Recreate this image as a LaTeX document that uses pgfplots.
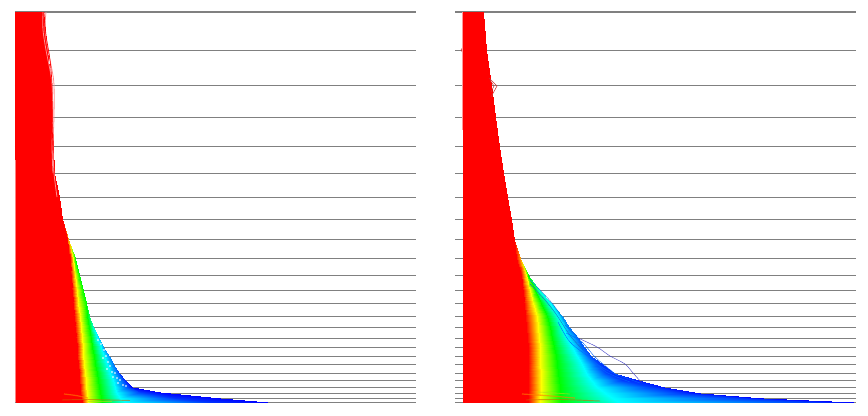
\documentclass[border=0pt]{standalone}
\usepackage{pgfplots}
\pgfplotsset{compat=1.18}
\pgfplotsset{panel/.style={
  scale only axis, width=300.75pt, height=292.5pt, anchor=south west,
  ymin=12, ymax=402, y dir=reverse,
  axis line style={draw=none}, tick style={draw=none},
  xtick=\empty, yticklabels={},
  ytick={12,50,85,117,146,173,197,219,239,258,275,290,303,316,327,338,347,356,364,373,380,387,393,398,402},
  ymajorgrids, grid style={draw=black!50,line width=0.75pt},
  extra y ticks={12}, extra y tick labels={}, extra y tick style={grid style={draw=black!50,line width=1.5pt}},
  colormap={rb}{rgb255(0cm)=(0,0,255);rgb255(1cm)=(0,255,255);rgb255(2cm)=(0,255,0);rgb255(3cm)=(255,255,0);rgb255(4cm)=(255,0,0)},
  point meta min=0, point meta max=1,
}}
\begin{document}
\begin{tikzpicture}
\path[use as bounding box] (0,0) rectangle (651pt,311.25pt);
% LEFT PANEL
\begin{axis}[panel, at={(11.25pt,9.75pt)}, xmin=15, xmax=416]
\addplot[surf, shader=interp, mesh/cols=7, point meta=\thisrow{m}] table[x=x,y=y,row sep=\\]{
x y m\\
16 12 1\\ 43 12 1\\ 43 12 1\\ 43 12 1\\ 43 12 1\\ 43 12 1\\ 43 12 1\\
16 50 1\\ 47 50 1\\ 47 50 1\\ 47 50 1\\ 47 50 1\\ 47 50 1\\ 47 50 1\\
16 85 1\\ 51 85 1\\ 51 85 1\\ 51 85 1\\ 51 85 1\\ 51 85 1\\ 51 85 1\\
16 117 1\\ 52 117 1\\ 52 117 1\\ 52 117 1\\ 52 117 1\\ 52 117 1\\ 52 117 1\\
16 146 1\\ 53 146 1\\ 53 146 1\\ 53 146 1\\ 53 146 1\\ 53 146 1\\ 53 146 1\\
16 173 1\\ 54 173 1\\ 54 173 1\\ 54 173 1\\ 54 173 1\\ 54 173 1\\ 54 173 1\\
16 197 1\\ 59 197 1\\ 59 197 1\\ 59 197 1\\ 59 197 1\\ 59 197 1\\ 59 197 1\\
16 219 1\\ 62 219 1\\ 62 219 1\\ 62 219 1\\ 62 219 1\\ 62 219 1\\ 62 219 1\\
16 239 1\\ 67 239 1\\ 68 239 .85\\ 68 239 .85\\ 68 239 .85\\ 68 239 .85\\ 68 239 .85\\
16 258 1\\ 70 258 1\\ 73 258 .75\\ 75 258 .5\\ 75 258 .5\\ 75 258 .5\\ 75 258 .5\\
16 275 1\\ 71 275 1\\ 75 275 .75\\ 79 275 .5\\ 79 275 .5\\ 79 275 .5\\ 79 275 .5\\
16 290 1\\ 72 290 1\\ 77 290 .75\\ 83 290 .5\\ 83 290 .5\\ 83 290 .5\\ 83 290 .5\\
16 303 1\\ 73 303 1\\ 78.5 303 .75\\ 86 303 .5\\ 86 303 .5\\ 86 303 .5\\ 86 303 .5\\
16 316 1\\ 74 316 1\\ 80 316 .75\\ 87 316 .5\\ 89 316 .42\\ 89 316 .42\\ 89 316 .42\\
16 327 1\\ 75 327 1\\ 81 327 .75\\ 89 327 .5\\ 93 327 .3\\ 93 327 .3\\ 93 327 .3\\
16 338 1\\ 76 338 1\\ 82 338 .75\\ 91 338 .5\\ 97 338 .25\\ 99 338 .2\\ 99 338 .2\\
16 347 1\\ 77 347 1\\ 83 347 .75\\ 92 347 .5\\ 101 347 .25\\ 103 347 .17\\ 103 347 .17\\
16 356 1\\ 77.5 356 1\\ 83.5 356 .75\\ 94 356 .5\\ 104 356 .25\\ 109 356 .14\\ 109 356 .14\\
16 364 1\\ 78 364 1\\ 84 364 .75\\ 95.5 364 .5\\ 107 364 .25\\ 113 364 .12\\ 113 364 .12\\
16 373 1\\ 79 373 1\\ 85 373 .75\\ 97 373 .5\\ 110 373 .25\\ 118 373 .1\\ 119 373 .06\\
16 380 1\\ 79.5 380 1\\ 86 380 .75\\ 98 380 .5\\ 113 380 .25\\ 123 380 .08\\ 125 380 .04\\
16 387 1\\ 80 387 1\\ 86.5 387 .75\\ 99 387 .5\\ 115 387 .25\\ 128 387 .07\\ 132 387 0\\
16 392 1\\ 80.5 392 1\\ 87 392 .75\\ 100 392 .5\\ 116 392 .25\\ 140 392 .06\\ 160 392 0\\
16 398 1\\ 81 398 1\\ 87 398 .75\\ 101 398 .5\\ 120 398 .25\\ 175 398 .05\\ 220 398 0\\
16 402 1\\ 82 402 1\\ 88 402 .75\\ 102 402 .5\\ 125 402 .25\\ 210 402 .05\\ 268 402 0\\
};
\addplot[red!50,line width=.75pt] coordinates {(15.5,160)(15.5,402)};
\addplot[red,line width=.75pt] coordinates {(15.5,12)(15.5,160)};
\addplot[red!45,line width=.6pt,smooth] coordinates {(46,12)(45,30)(48,50)(52,70)(54,85)(54,117)(53,146)(54,173)(57,197)};
\addplot[red!45,line width=.6pt,smooth] coordinates {(43,12)(43,30)(46,50)(50,70)(52,85)(53,117)(52,146)(53,173)};
\addplot[red,line width=.5pt,smooth] coordinates {(44,12)(46,35)(50,60)(52,85)(52,117)(53,150)};
\addplot[orange,opacity=.6,line width=.9pt,smooth] coordinates {(64,394)(76,395.5)(88,398)};
\addplot[orange!80!black,opacity=.6,line width=.7pt,smooth] coordinates {(62,400)(88,399.5)(130,400.5)};
\addplot[yellow!70!green,opacity=.6,line width=.6pt] coordinates {(88,401)(112,401)};
\addplot[only marks,mark=*,mark size=.3pt,white] coordinates {(98,340)(101,344)(104,350)(106,356)(103,358)(108,362)(110,366)(107,369)(112,372)(115,373)(113,377)(117,378)(120,380)(118,383)(123,385)(126,386)(110,354)};
\end{axis}
% RIGHT PANEL
\begin{axis}[panel, at={(341.25pt,9.75pt)}, xmin=455, xmax=856]
\addplot[surf, shader=interp, mesh/cols=7, point meta=\thisrow{m}] table[x=x,y=y,row sep=\\]{
x y m\\
463.5 12 1\\ 483 12 1\\ 483 12 1\\ 483 12 1\\ 483 12 1\\ 483 12 1\\ 483 12 1\\
463.5 50 1\\ 486 50 1\\ 486 50 1\\ 486 50 1\\ 486 50 1\\ 486 50 1\\ 486 50 1\\
463.5 85 1\\ 491 85 1\\ 491 85 1\\ 491 85 1\\ 491 85 1\\ 491 85 1\\ 491 85 1\\
463.5 117 1\\ 495 117 1\\ 495 117 1\\ 495 117 1\\ 495 117 1\\ 495 117 1\\ 495 117 1\\
463.5 146 1\\ 499 146 1\\ 499 146 1\\ 499 146 1\\ 499 146 1\\ 499 146 1\\ 499 146 1\\
463.5 173 1\\ 503 173 1\\ 503 173 1\\ 503 173 1\\ 503 173 1\\ 503 173 1\\ 503 173 1\\
463.5 197 1\\ 507 197 1\\ 507 197 1\\ 507 197 1\\ 507 197 1\\ 507 197 1\\ 507 197 1\\
463.5 219 1\\ 511 219 1\\ 511 219 1\\ 511 219 1\\ 511 219 1\\ 511 219 1\\ 511 219 1\\
463.5 240 1\\ 514 240 1\\ 514 240 1\\ 514 240 1\\ 514 240 1\\ 514 240 1\\ 514 240 1\\
463.5 258 1\\ 516 258 1\\ 520 258 .85\\ 520 258 .85\\ 520 258 .85\\ 520 258 .85\\ 520 258 .85\\
463.5 275 1\\ 521 275 1\\ 526 275 .75\\ 528 275 .5\\ 528 275 .5\\ 528 275 .5\\ 528 275 .5\\
463.5 290 1\\ 523 290 1\\ 530 290 .75\\ 535 290 .5\\ 539 290 .28\\ 539 290 .28\\ 539 290 .28\\
463.5 303 1\\ 524 303 1\\ 533 303 .75\\ 541 303 .5\\ 550 303 .25\\ 551 303 .22\\ 551 303 .22\\
463.5 316 1\\ 525 316 1\\ 537 316 .75\\ 547 316 .5\\ 558 316 .25\\ 562 316 .15\\ 562 316 .15\\
463.5 327 1\\ 526 327 1\\ 538 327 .75\\ 550 327 .5\\ 563 327 .25\\ 569 327 .12\\ 569 327 .12\\
463.5 338 1\\ 527 338 1\\ 539 338 .75\\ 552 338 .5\\ 567 338 .25\\ 578 338 .1\\ 578 338 .1\\
463.5 347 1\\ 527.5 347 1\\ 540 347 .75\\ 554 347 .5\\ 572 347 .25\\ 583 347 .09\\ 584 347 .09\\
463.5 356 1\\ 528 356 1\\ 540 356 .75\\ 556 356 .5\\ 577 356 .25\\ 590 356 .08\\ 591 356 .08\\
463.5 364 1\\ 528 364 1\\ 540 364 .75\\ 557 364 .5\\ 582 364 .25\\ 598 364 .07\\ 602 364 .05\\
463.5 373 1\\ 528 373 1\\ 541 373 .75\\ 558 373 .5\\ 586 373 .25\\ 606 373 .07\\ 614 373 .04\\
463.5 380 1\\ 528 380 1\\ 541 380 .75\\ 559 380 .5\\ 591 380 .25\\ 622 380 .06\\ 638 380 .03\\
463.5 387 1\\ 528 387 1\\ 541 387 .75\\ 560 387 .5\\ 597 387 .25\\ 652 387 .06\\ 664 387 .02\\
463.5 393 1\\ 528 393 1\\ 541 393 .75\\ 560 393 .5\\ 605 393 .25\\ 685 393 .05\\ 700 393 .01\\
463.5 398 1\\ 528 398 1\\ 540 398 .75\\ 560 398 .5\\ 612 398 .25\\ 745 398 .05\\ 763 398 0\\
463.5 402 1\\ 528 402 1\\ 540 402 .75\\ 561 402 .5\\ 618 402 .25\\ 817 402 .05\\ 853 402 0\\
};
\addplot[red!60!gray,line width=.4pt] coordinates {(489,78)(497,86)(491,97)};
\addplot[red!60!gray,line width=.4pt] coordinates {(490,80)(494,86)(491,92)};
\addplot[red!60!gray,line width=.4pt] coordinates {(463,47)(461,50)(463,53)};
\addplot[red!40,line width=.5pt] coordinates {(462.5,12)(462.5,130)};
\addplot[blue!55!gray,line width=.3pt,smooth] coordinates {(578,338)(597,347)(610,356)(625,364)(633,373)(642,383)};
\addplot[cyan!70!blue,line width=.3pt,smooth] coordinates {(530,280)(540,290)(552,303)(562,317)(568,327)(578,338)};
\addplot[cyan!50!blue,line width=.3pt,smooth] coordinates {(530,284)(545,300)(556,314)(565,328)(572,338)(583,350)};
\addplot[blue!60!cyan,line width=.3pt,smooth] coordinates {(565,325)(578,338)(583,350)(597,364)(613,373)(640,383)};
\addplot[blue!60!cyan,line width=.3pt,smooth] coordinates {(558,322)(570,342)(590,358)(606,372)(630,382)};
\addplot[blue!60!cyan,line width=.3pt,smooth] coordinates {(566,333)(582,342)(596,358)(618,376)};
\addplot[orange,opacity=.6,line width=.9pt,smooth] coordinates {(522,394)(545,395.5)(575,398)};
\addplot[orange!80!black,opacity=.6,line width=.7pt,smooth] coordinates {(526,400)(560,399.5)(600,401)};
\addplot[yellow!70!green,opacity=.6,line width=.6pt] coordinates {(538,392)(570,394)};
\end{axis}
\end{tikzpicture}
\end{document}
